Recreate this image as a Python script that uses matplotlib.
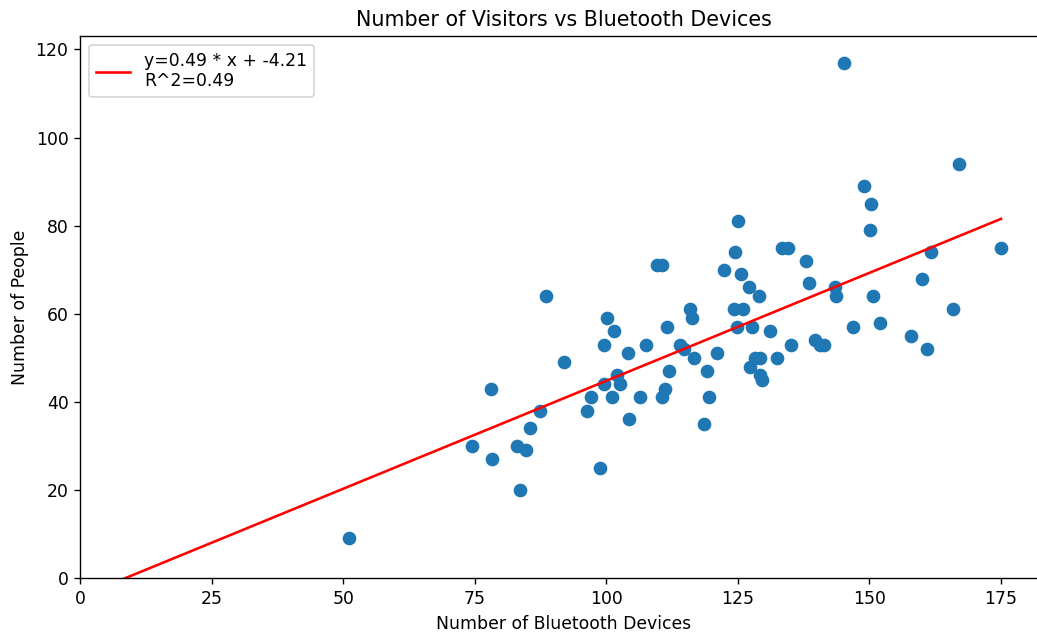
import numpy as np
import matplotlib
matplotlib.use("Agg")
import matplotlib.pyplot as plt

bluetooth_devices = [51, 74.5, 78.1, 78.3, 83.0, 83.6, 84.7, 85.5, 87.4, 88.5,
                     92.0, 96.3, 97.1, 98.8, 99.6, 99.6, 100.1, 101.1, 101.5, 102.0,
                     102.6, 104.1, 104.3, 106.4, 107.5, 109.6, 110.6, 110.6, 111.2, 111.5,
                     111.9, 114.0, 114.8, 115.9, 116.3, 116.7, 118.6, 119.1, 119.5, 121.0,
                     122.4, 124.3, 124.4, 124.8, 125.0, 125.6, 126.0, 127.1, 127.3, 127.7,
                     128.3, 129.0, 129.2, 129.2, 129.6, 131.1, 132.4, 133.4, 134.5, 135.1,
                     137.9, 138.5, 139.6, 140.6, 141.4, 143.5, 143.6, 145.2, 146.9, 149.0,
                     150.3, 150.1, 150.7, 152.0, 157.9, 160.0, 160.9, 161.7, 165.9, 167.0,
                     175.0]
people = [9, 30, 43, 27, 30, 20, 29, 34, 38, 64,
          49, 38, 41, 25, 53, 44, 59, 41, 56, 46,
          44, 51, 36, 41, 53, 71, 71, 41, 43, 57,
          47, 53, 52, 61, 59, 50, 35, 47, 41, 51,
          70, 61, 74, 57, 81, 69, 61, 66, 48, 57,
          50, 64, 46, 50, 45, 56, 50, 75, 75, 53,
          72, 67, 54, 53, 53, 66, 64, 117, 57, 89,
          85, 79, 64, 58, 55, 68, 52, 74, 61, 94,
          75]

slope = 0.49
intercept = -4.21
r_squared = 0.49

DPI = 124
fig = plt.figure(figsize=(1037 / DPI, 634 / DPI), dpi=DPI)
ax = fig.add_axes([80.5 / 1037, 1 - 578 / 634, (1047 - 80.5) / 1037, (578 - 36) / 634])

ax.scatter(bluetooth_devices, people, color="#1f77b4", s=48, zorder=2)
x_line = np.linspace(0, max(bluetooth_devices), 200)
ax.plot(x_line, slope * x_line + intercept, color="red",
        label=f"y={slope} * x + {intercept}\nR^2={r_squared}")

ax.set_xlim(0, 183.75)
ax.set_ylim(0, 123.06)
ax.set_xticks([0, 25, 50, 75, 100, 125, 150, 175])
ax.set_yticks([0, 20, 40, 60, 80, 100, 120])
ax.set_title("Number of Visitors vs Bluetooth Devices")
ax.set_xlabel("Number of Bluetooth Devices")
ax.set_ylabel("Number of People")
ax.legend(loc="upper left")

fig.savefig("out.png", dpi=DPI)
